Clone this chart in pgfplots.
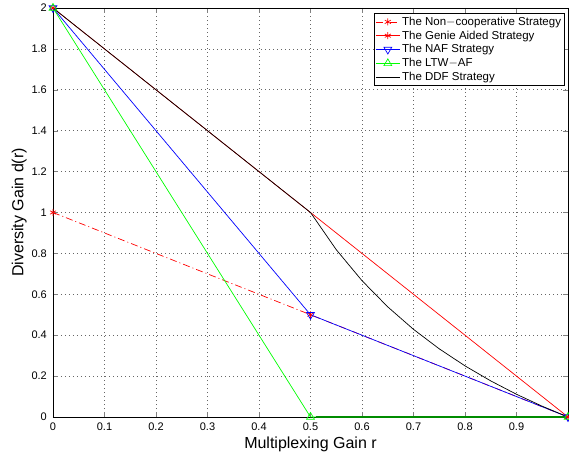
\documentclass[border=0pt]{standalone}
\usepackage{pgfplots}
\pgfplotsset{compat=1.18}
\usepackage{fontspec}
\setmainfont{Liberation Sans}
\usetikzlibrary{plotmarks}

\begin{document}
\begin{tikzpicture}
\begin{axis}[
  scale only axis, width=515pt, height=409pt,
  xmin=0, xmax=1, ymin=0, ymax=2,
  xtick={0,0.1,0.2,0.3,0.4,0.5,0.6,0.7,0.8,0.9,1},
  xticklabels={0,0.1,0.2,0.3,0.4,0.5,0.6,0.7,0.8,0.9,},
  ytick={0,0.2,0.4,0.6,0.8,1,1.2,1.4,1.6,1.8,2},
  yticklabels={0,0.2,0.4,0.6,0.8,1,1.2,1.4,1.6,1.8,2},
  tick align=inside, major tick length=5pt,
  tick label style={font=\fontsize{11}{13}\selectfont, inner sep=0pt},
  xticklabel style={yshift=-6pt},
  yticklabel style={xshift=-6pt},
  xtick pos=both, ytick pos=both,
  xticklabel pos=lower, yticklabel pos=left,
  grid=major, major grid style={dash pattern=on 0.6pt off 3.4pt, black!60, line width=0.6pt},
  axis line style={line width=0.9pt},
  xlabel={Multiplexing Gain r}, ylabel={Diversity Gain d(r)},
  label style={font=\fontsize{16}{18}\selectfont, inner sep=0pt},
  xlabel style={at={(axis description cs:0.5,-0.049)}, anchor=north},
  ylabel style={at={(axis description cs:-0.0505,0.5)}, anchor=south},
  legend style={at={(1,1)}, anchor=north east, xshift=-3pt, yshift=-5pt,
    draw=black, line width=0.9pt,
    font=\fontsize{11.5}{13}\selectfont, inner sep=1.5pt, row sep=0pt,
    cells={anchor=west}},
  legend image code/.code={\draw[mark repeat=2,mark phase=2] plot coordinates {(0cm,0cm) (0.42cm,0cm) (0.84cm,0cm)};},
  legend cell align=left,
  clip=false,
]
\addplot[red, dash pattern=on 7pt off 3pt on 1pt off 3pt, line width=0.7pt, mark=asterisk, mark size=3.5pt, mark options={solid}]
  coordinates {(0,1) (0.5,0.5) (1,0)};
\addlegendentry{The Non$-$cooperative Strategy}
\addplot[red, line width=0.7pt, mark=asterisk, mark size=3.5pt]
  coordinates {(0,2) (1,0)};
\addlegendentry{The Genie Aided Strategy}
\addplot[blue, line width=0.7pt, mark=triangle, mark size=4.5pt, mark options={rotate=180}]
  coordinates {(0,2) (0.5,0.5) (1,0)};
\addlegendentry{The NAF Strategy}
\addplot[green, line width=0.7pt, mark=triangle, mark size=4.5pt]
  coordinates {(0,2) (0.5,0) (1,0)};
\addlegendentry{The LTW$-$AF}
\addplot[black, line width=0.7pt]
  coordinates {(0,2) (0.5,1) (0.55,0.8182) (0.6,0.6667) (0.65,0.5385) (0.7,0.4286)
    (0.75,0.3333) (0.8,0.25) (0.85,0.1765) (0.9,0.1111) (0.95,0.0526) (1,0)};
\addlegendentry{The DDF Strategy}
\draw[green!55!black, line width=2pt] (axis cs:0.51,0) -- (axis cs:1,0);
\coordinate (ll) at (rel axis cs:0,0);
\coordinate (ur) at (rel axis cs:1,1);
\end{axis}
\pgfresetboundingbox
\path ([xshift=-53pt,yshift=-41pt]ll) rectangle ([xshift=1pt,yshift=8pt]ur);
\end{tikzpicture}
\end{document}
